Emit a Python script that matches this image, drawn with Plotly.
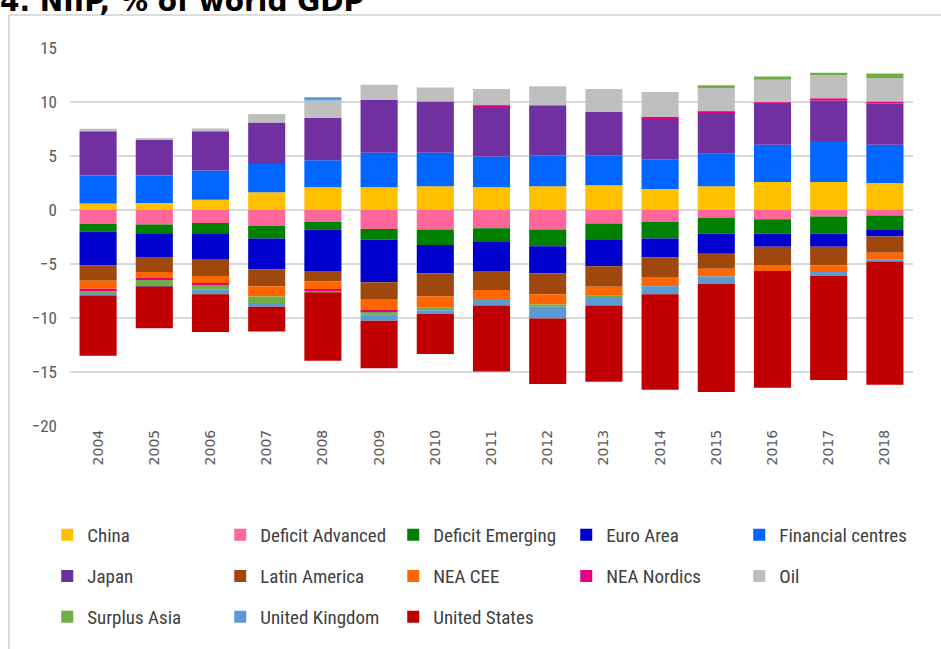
import plotly.graph_objects as go

years = ["2004", "2005", "2006", "2007", "2008", "2009", "2010", "2011",
         "2012", "2013", "2014", "2015", "2016", "2017", "2018"]

china = [0.6, 0.65, 0.95, 1.65, 2.1, 2.1, 2.2, 2.1, 2.2, 2.3, 1.95, 2.2, 2.6, 2.6, 2.5]
deficit_advanced = [-1.3, -1.35, -1.2, -1.45, -1.1, -1.75, -1.8, -1.7, -1.8, -1.25, -1.1, -0.75, -0.85, -0.6, -0.5]
deficit_emerging = [-0.7, -0.8, -0.95, -1.2, -0.7, -1.0, -1.45, -1.2, -1.55, -1.45, -1.55, -1.45, -1.35, -1.6, -1.35]
euro_area = [-3.15, -2.2, -2.45, -2.85, -3.85, -3.95, -2.6, -2.75, -2.5, -2.5, -1.75, -1.85, -1.2, -1.2, -0.6]
financial_centres = [2.6, 2.55, 2.7, 2.6, 2.5, 3.2, 3.1, 2.85, 2.85, 2.75, 2.75, 3.0, 3.45, 3.8, 3.55]
japan = [4.1, 3.3, 3.65, 3.85, 3.95, 4.9, 4.75, 4.6, 4.65, 4.05, 3.8, 3.8, 3.8, 3.75, 3.8]
latin_america = [-1.4, -1.4, -1.5, -1.55, -0.95, -1.55, -2.15, -1.75, -1.95, -1.9, -1.8, -1.4, -1.7, -1.75, -1.5]
nea_cee = [-0.75, -0.6, -0.7, -0.95, -0.75, -1.05, -1.0, -0.85, -0.95, -0.85, -0.85, -0.7, -0.55, -0.6, -0.6]
nea_nordics = [-0.2, -0.12, -0.15, 0.0, -0.15, -0.15, 0.0, 0.15, 0.0, 0.0, 0.12, 0.15, 0.12, 0.2, 0.2]
oil = [0.22, 0.15, 0.25, 0.78, 1.6, 1.4, 1.3, 1.5, 1.75, 2.1, 2.3, 2.15, 2.1, 2.2, 2.15]
surplus_asia = [-0.35, -0.5, -0.4, -0.6, -0.15, -0.25, -0.28, -0.1, -0.2, -0.2, 0.0, 0.25, 0.28, 0.15, 0.45]
united_kingdom = [-0.1, -0.12, -0.45, -0.35, 0.28, -0.55, -0.35, -0.5, -1.1, -0.7, -0.75, -0.7, 0.0, -0.35, -0.22]
united_states = [-5.55, -3.85, -3.5, -2.3, -6.3, -4.4, -3.7, -6.1, -6.05, -7.05, -8.85, -10.0, -10.8, -9.65, -11.4]

names = ["China", "Deficit Advanced", "Deficit Emerging", "Euro Area", "Financial centres",
         "Japan", "Latin America", "NEA CEE", "NEA Nordics", "Oil",
         "Surplus Asia", "United Kingdom", "United States"]
series = [china, deficit_advanced, deficit_emerging, euro_area, financial_centres,
          japan, latin_america, nea_cee, nea_nordics, oil,
          surplus_asia, united_kingdom, united_states]
colors = ["#FFC000", "#FF6699", "#008000", "#0000CC", "#0066FF",
          "#7030A0", "#9E480E", "#FF6600", "#E6007E", "#BFBFBF",
          "#70AD47", "#5B9BD5", "#C00000"]

narrow = "Liberation Sans Narrow, Roboto Condensed, Roboto, sans-serif"

fig = go.Figure()
for i, (nm, vals, col) in enumerate(zip(names, series, colors)):
    row = i // 5
    fig.add_trace(go.Bar(
        x=years, y=vals, name=nm, marker=dict(color=col, line=dict(width=0)),
        legend=["legend", "legend2", "legend3"][row],
    ))

# one legend per row so row spacing matches
leg = dict(orientation="h", x=-0.027, xanchor="left", yanchor="middle",
           entrywidth=128, entrywidthmode="pixels", traceorder="normal",
           font=dict(family=narrow, size=19, color="#404040"),
           bgcolor="rgba(0,0,0,0)")

fig.update_layout(
    width=941, height=649,
    barmode="relative", bargap=0.34,
    plot_bgcolor="white", paper_bgcolor="white",
    margin=dict(l=70, r=28, t=48, b=223, pad=0),
    legend=dict(leg, y=-0.288),
    legend2=dict(leg, y=-0.397),
    legend3=dict(leg, y=-0.505),
)

fig.update_xaxes(
    type="category", tickangle=-90, showgrid=False, showline=False,
    ticks="", ticklabelstandoff=0,
    tickfont=dict(family="DejaVu Sans", size=14, color="#595959"),
)
fig.update_yaxes(
    range=[-20, 15], tickvals=[-20, -15, -10, -5, 0, 5, 10, 15],
    showgrid=True, gridcolor="#D9D9D9", gridwidth=2,
    zeroline=True, zerolinecolor="#D9D9D9", zerolinewidth=2,
    showline=False, ticks="", ticklabelstandoff=12,
    tickfont=dict(family=narrow, size=17, color="#595959"),
)

# title, partly cut off at the top of the picture
fig.add_annotation(
    x=-0.0854, y=1.124, xref="paper", yref="paper", xanchor="left", yanchor="middle",
    text="<b>4. NIIP, % of world GDP</b>", showarrow=False,
    font=dict(family="DejaVu Sans", size=28, color="black"),
)

# frame around chart
fig.add_shape(type="line", xref="paper", yref="paper",
              x0=-0.0724, y0=1.087, x1=1.04, y1=1.087,
              line=dict(color="#D0D0D0", width=1.5))
fig.add_shape(type="line", xref="paper", yref="paper",
              x0=-0.0724, y0=1.087, x1=-0.0724, y1=-0.6,
              line=dict(color="#D0D0D0", width=1.5))

fig.write_html("out.html", config={"displayModeBar": False},
               post_script="document.body.style.margin='0';")
